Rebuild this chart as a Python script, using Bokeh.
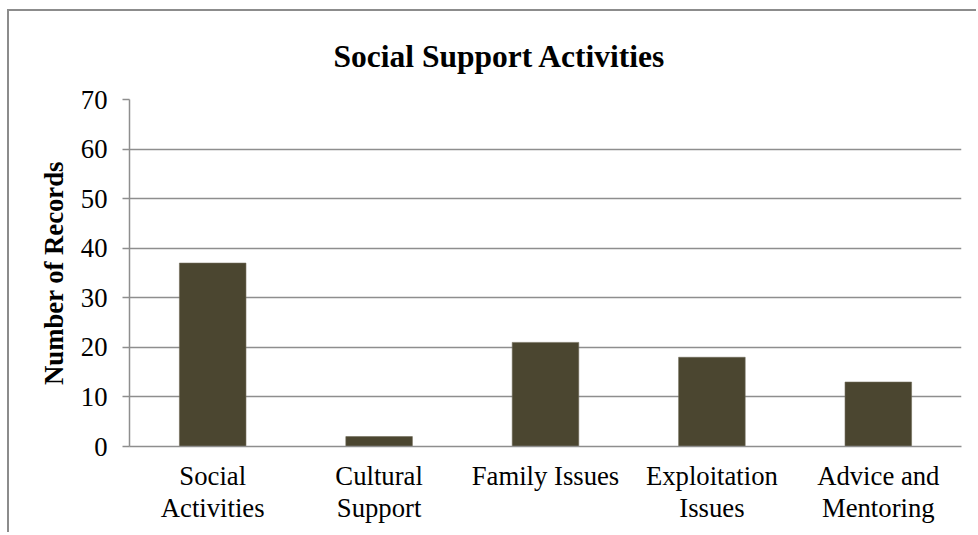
from bokeh.plotting import figure
from bokeh.models import CategoricalAxis, CustomJSTickFormatter
from bokeh.embed import file_html
from bokeh.resources import INLINE

categories = ["Social Activities", "Cultural Support", "Family Issues",
              "Exploitation Issues", "Advice and Mentoring"]
label_line1 = ["Social", "Cultural", "Family Issues", "Exploitation", "Advice and"]
label_line2 = ["Activities", "Support", "", "Issues", "Mentoring"]
records = [37, 2, 21, 18, 13]
y_ticks = [0, 10, 20, 30, 40, 50, 60, 70]

FONT = "Liberation Serif"
GRID = "#8e8e8e"

p = figure(x_range=categories, y_range=(0, 70), width=969, height=523,
           output_backend="svg", toolbar_location=None,
           title="Social Support Activities",
           min_border_left=120, min_border_right=17, min_border_top=88,
           min_border_bottom=88)
p.styles = {"margin-left": "7px", "margin-top": "9px",
            "border-left": "2px solid #8c8c8c", "border-top": "2px solid #8c8c8c"}

p.title.text_font = FONT
p.title.text_font_style = "bold"
p.title.text_font_size = "31.5px"
p.title.text_color = "black"
p.title.align = "left"
p.title.offset = 204
p.title.standoff = 51

p.vbar(x=categories, top=records, width=0.4, fill_color="#4b4630",
       line_color="#6e6a58", line_width=0.6)

p.outline_line_color = None
p.xgrid.grid_line_color = None
p.ygrid.grid_line_color = GRID
p.ygrid.grid_line_width = 1.5
p.yaxis.ticker = y_ticks

p.yaxis.axis_line_color = GRID
p.yaxis.axis_line_width = 1.5
p.yaxis.major_tick_line_color = GRID
p.yaxis.major_tick_line_width = 1.5
p.yaxis.major_tick_out = 7
p.yaxis.major_tick_in = 0
p.yaxis.minor_tick_line_color = None
p.yaxis.major_label_text_font = FONT
p.yaxis.major_label_text_font_size = "26.7px"
p.yaxis.major_label_text_color = "black"
p.yaxis.major_label_standoff = 15
p.yaxis.axis_label = "Number of Records"
p.yaxis.axis_label_text_font = FONT
p.yaxis.axis_label_text_font_style = "bold"
p.yaxis.axis_label_text_font_size = "26.7px"
p.yaxis.axis_label_text_color = "black"
p.yaxis.axis_label_standoff = 9

def line_formatter(lines):
    return CustomJSTickFormatter(
        args=dict(cats=categories, lines=lines),
        code="const i = cats.indexOf(tick); return i >= 0 ? lines[i] : '';")

xa = p.xaxis[0]
xa.axis_line_color = GRID
xa.axis_line_width = 1.5
xa.major_tick_line_color = None
xa.minor_tick_line_color = None
xa.major_tick_out = 0
xa.major_tick_in = 0
xa.formatter = line_formatter(label_line1)
xa.major_label_text_font = FONT
xa.major_label_text_font_size = "26.7px"
xa.major_label_text_color = "black"
xa.major_label_standoff = 14

xb = CategoricalAxis(axis_line_color=None, major_tick_line_color=None,
                     minor_tick_line_color=None, major_tick_out=0,
                     major_tick_in=0,
                     formatter=line_formatter(label_line2),
                     major_label_text_font=FONT,
                     major_label_text_font_size="26.7px",
                     major_label_text_color="black",
                     major_label_standoff=-1)
p.add_layout(xb, "below")

open("out.html", "w").write(file_html(p, INLINE))
